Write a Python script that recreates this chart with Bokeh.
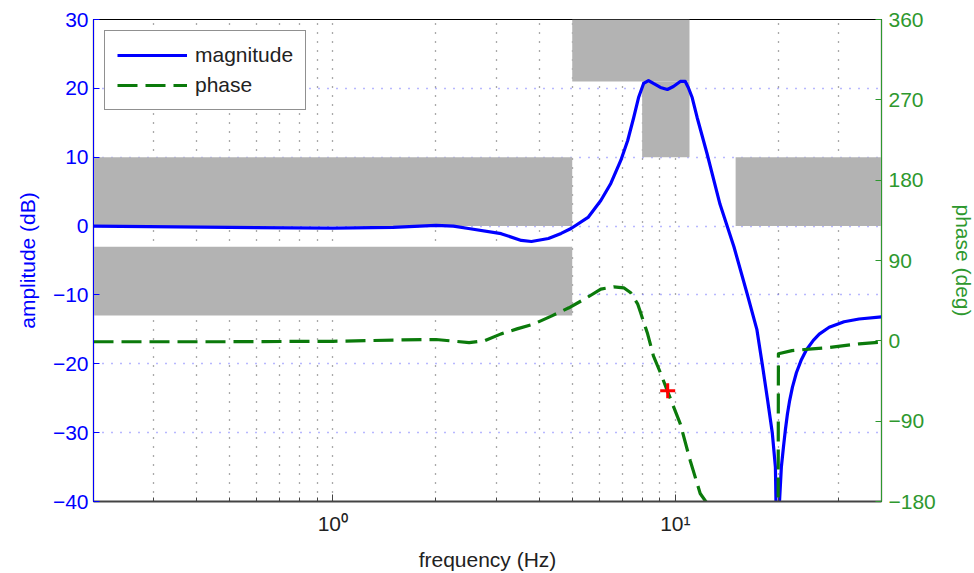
from bokeh.plotting import figure
from bokeh.models import Range1d, LinearAxis, FixedTicker
from bokeh.embed import file_html
from bokeh.resources import INLINE

# ---- data ----
freq_mag = [0.2, 0.5, 1.0, 1.5, 2.0, 2.25, 2.49, 3.1, 3.55, 3.8, 4.26, 4.64, 4.96,
            5.56, 6.06, 6.48, 6.93, 7.26, 7.56, 7.81, 8.08, 8.35, 8.63, 9.05, 9.48,
            9.87, 10.34, 10.69, 10.91, 11.2, 11.58, 12.38, 13.5, 14.83, 16.2, 17.3,
            18.0, 18.6, 19.2, 19.6, 19.75, 19.9, 20.4, 20.7, 20.97, 21.25, 21.54,
            21.98, 22.57, 23.34, 24.13, 25.29, 26.32, 28.14, 31.1, 34.4, 40.0]
mag_db = [0.0, -0.2, -0.3, -0.2, 0.1, 0.0, -0.35, -1.1, -2.09, -2.24, -1.8, -1.07, -0.35,
          1.25, 3.72, 6.19, 9.53, 12.43, 15.77, 18.67, 20.71, 21.14, 20.71, 20.13, 19.84,
          20.27, 21.0, 21.0, 20.13, 18.67, 15.77, 10.5, 3.2, -3.0, -9.8, -15.0,
          -20.5, -25.3, -30.1, -35.0, -45.0, -45.0, -35.0, -32.0, -29.5, -27.3, -25.5,
          -23.4, -21.3, -19.4, -18.0, -16.6, -15.7, -14.7, -13.9, -13.5, -13.2]

freq_phase = [0.2, 0.5, 1.0, 1.6, 2.0, 2.5, 2.77, 3.1, 3.45, 3.87, 4.36, 4.89, 5.5,
              6.06, 6.61, 7.07, 7.41, 7.76, 7.92, 8.3, 8.63, 9.05, 9.48, 10.34, 11.05,
              11.82, 12.38, 13.0, 19.95, 20.0, 21.9, 25.1, 27.6, 34.4, 40.0]
phase_deg = [-1, -1, -0.5, 1, 1.5, -2, 0, 7.8, 13.4, 19, 28, 37, 48,
             58, 60.5, 59.4, 53.8, 41.5, 31.4, 7.8, -16.8, -35.9, -56, -93, -134,
             -171, -182, -200, -260, -14.5, -11, -9, -7.8, -3.4, -1.5]

marker_freq = [9.5]
marker_phase = [-56]

box_left = [0.2, 0.2, 5, 8, 15]
box_right = [5, 5, 11, 11, 40]
box_bottom = [0, -13, 21, 10, 0]
box_top = [10, -3, 30, 21, 10]

x_major = [1, 10]
x_minor = [0.3, 0.4, 0.5, 0.6, 0.7, 0.8, 0.9, 2, 3, 4, 5, 6, 7, 8, 9, 20, 30]
x_labels = {1: "10\u2070", 10: "10\u00b9"}
amp_ticks = [-40, -30, -20, -10, 0, 10, 20, 30]
phase_ticks = [-180, -90, 0, 90, 180, 270, 360]

FONT = "Liberation Sans"
FS = "21px"
BLUE = "#0000ff"
GREEN_AX = "#2e982e"
GREEN_LN = "#0b7a0b"
GRAY = "#b3b3b3"


def minus(v):
    return str(v).replace("-", "\u2212")


p = figure(x_axis_type="log", x_range=Range1d(0.2, 40), y_range=Range1d(-40, 30),
           frame_width=788, frame_height=482,
           min_border_left=93, min_border_right=93, min_border_top=19, min_border_bottom=70,
           output_backend="svg", toolbar_location=None)
p.extra_y_ranges = {"phase": Range1d(-180, 360)}
p.outline_line_color = "black"
p.outline_line_width = 1.2
p.background_fill_color = "white"
p.border_fill_color = "white"

# x axis
xa = p.xaxis[0]
xa.ticker = FixedTicker(ticks=x_major, minor_ticks=x_minor)
xa.major_label_overrides = x_labels
xa.axis_label = "frequency (Hz)"
xa.axis_label_text_font = FONT
xa.axis_label_text_font_size = FS
xa.axis_label_text_font_style = "normal"
xa.axis_label_text_color = "#222222"
xa.major_label_text_font = FONT
xa.major_label_text_font_size = FS
xa.major_label_text_color = "#222222"
xa.axis_line_color = "#444444"
xa.axis_line_width = 2
xa.major_tick_in = 7
xa.major_tick_out = 0
xa.minor_tick_in = 4
xa.minor_tick_out = 0
xa.major_tick_line_color = "#444444"
xa.minor_tick_line_color = "#444444"
xa.major_label_standoff = 10
xa.axis_label_standoff = 10

# left axis
ya = p.yaxis[0]
ya.ticker = FixedTicker(ticks=amp_ticks)
ya.major_label_overrides = {t: minus(t) for t in amp_ticks}
ya.axis_label = "amplitude (dB)"
ya.axis_label_text_font = FONT
ya.axis_label_text_font_size = FS
ya.axis_label_text_font_style = "normal"
ya.axis_label_text_color = BLUE
ya.major_label_text_font = FONT
ya.major_label_text_font_size = FS
ya.major_label_text_color = BLUE
ya.axis_line_color = BLUE
ya.major_tick_line_color = BLUE
ya.major_tick_in = 6
ya.major_tick_out = 0
ya.minor_tick_line_color = None
ya.major_label_standoff = 5
ya.axis_label_standoff = 11

# right axis
ra = LinearAxis(y_range_name="phase", ticker=FixedTicker(ticks=phase_ticks))
ra.major_label_overrides = {t: minus(t) for t in phase_ticks}
ra.axis_label = "phase (deg)"
ra.axis_label_text_font = FONT
ra.axis_label_text_font_size = FS
ra.axis_label_text_font_style = "normal"
ra.axis_label_text_color = GREEN_AX
ra.major_label_text_font = FONT
ra.major_label_text_font_size = FS
ra.major_label_text_color = GREEN_AX
ra.axis_line_color = GREEN_AX
ra.major_tick_line_color = GREEN_AX
ra.major_tick_in = 6
ra.major_tick_out = 0
ra.minor_tick_line_color = None
ra.major_label_standoff = 7
ra.axis_label_standoff = 13
p.add_layout(ra, "right")

# grids
p.xgrid.grid_line_color = "#555555"
p.xgrid.grid_line_dash = "1 8"
p.xgrid.grid_line_width = 1.3
p.xgrid.minor_grid_line_color = "#555555"
p.xgrid.minor_grid_line_dash = "1 8"
p.xgrid.minor_grid_line_width = 1.3
p.ygrid.grid_line_color = "#7070ff"
p.ygrid.grid_line_dash = "1 8"
p.ygrid.grid_line_width = 1.3

# gray boxes
p.quad(left=box_left, right=box_right, bottom=box_bottom, top=box_top,
       fill_color=GRAY, line_color=None)

# curves
p.line(freq_mag, mag_db, line_color=BLUE, line_width=3.2, line_join="round",
       legend_label="magnitude")
p.line(freq_phase, phase_deg, line_color=GREEN_LN, line_width=3.2, line_dash="20 8",
       line_join="round", y_range_name="phase", legend_label="phase")
p.scatter(marker_freq, marker_phase, marker="cross", size=15, line_color="red",
          line_width=3, y_range_name="phase")

lg = p.legend[0]
lg.location = "top_left"
lg.margin = 11
lg.padding = 12
lg.spacing = 6
lg.glyph_width = 70
lg.glyph_height = 22
lg.label_standoff = 8
lg.label_text_font = FONT
lg.label_text_font_size = FS
lg.label_text_color = "#222222"
lg.border_line_color = "#222222"
lg.border_line_width = 1.2
lg.background_fill_alpha = 1.0

open("out.html", "w").write(file_html(p, INLINE))
